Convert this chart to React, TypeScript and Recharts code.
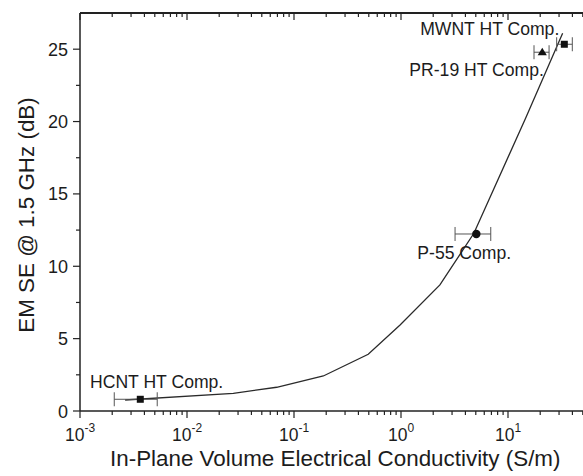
import React from 'react';
import { ComposedChart, Line, Scatter, XAxis, YAxis, ErrorBar } from 'recharts';

// Fitted curve (conductivity S/m, EM SE dB)
const curveConductivity = [0.00264, 0.0271, 0.0689, 0.188, 0.494, 0.98, 2.31, 4.8, 14.6, 32.4];
const curveSE = [0.76, 1.22, 1.64, 2.42, 3.92, 5.94, 8.71, 12.28, 20.23, 26.1];

// Square markers: HCNT HT Comp., MWNT HT Comp.
const squareX = [0.00366, 33.6];
const squareY = [0.81, 25.34];
const squareLo = [0.00209, 28.5];
const squareHi = [0.00527, 39.9];

// Circle marker: P-55 Comp.
const circleX = [5.06];
const circleY = [12.23];
const circleLo = [3.2];
const circleHi = [6.9];

// Triangle marker: PR-19 HT Comp.
const triangleX = [20.9];
const triangleY = [24.79];
const triangleLo = [17.5];
const triangleHi = [24.2];

// Annotations
const labelText = ['MWNT HT Comp.', 'PR-19 HT Comp.', 'P-55 Comp.', 'HCNT HT Comp.'];
const labelX = [1.51, 1.196, 1.42, 0.00124];
const labelY = [25.98, 23.15, 10.5, 1.59];

// Axis ticks
const xMajorTicks = [0.001, 0.01, 0.1, 1, 10, 100];
const xLabeledTicks = [0.001, 0.01, 0.1, 1, 10];
const xMinorTicks = [
  0.002, 0.003, 0.004, 0.005, 0.006, 0.007, 0.008, 0.009,
  0.02, 0.03, 0.04, 0.05, 0.06, 0.07, 0.08, 0.09,
  0.2, 0.3, 0.4, 0.5, 0.6, 0.7, 0.8, 0.9,
  2, 3, 4, 5, 6, 7, 8, 9,
  20, 30, 40, 50, 60, 70, 80, 90,
];
const yMajorTicks = [0, 5, 10, 15, 20, 25];
const yMinorTicks = [2.5, 7.5, 12.5, 17.5, 22.5];

const X_DOMAIN: [number, number] = [0.001, 100];
const Y_DOMAIN: [number, number] = [0, 27.5];

const FONT = '"Liberation Sans", Arial, sans-serif';
const TEXT = '#1c1c1c';
const AXIS = '#222';

const xAllTicks = [...xMajorTicks, ...xMinorTicks].sort((a, b) => a - b);
const yAllTicks = [...yMajorTicks, ...yMinorTicks].sort((a, b) => a - b);

const build = (xs: number[], ys: number[], lo: number[], hi: number[]) =>
  xs.map((x, i) => ({ x, y: ys[i], err: [x - lo[i], hi[i] - x] }));

const curveData = curveConductivity.map((x, i) => ({ x, y: curveSE[i] }));
const squareData = build(squareX, squareY, squareLo, squareHi);
const circleData = build(circleX, circleY, circleLo, circleHi);
const triangleData = build(triangleX, triangleY, triangleLo, triangleHi);
const labelData = labelText.map((text, i) => ({ x: labelX[i], y: labelY[i], text }));

const inList = (list: number[], v: number) => list.some((m) => Math.abs(m - v) < m * 1e-6);
const isYMajor = (v: number) => yMajorTicks.indexOf(v) >= 0;

const XBottomTick = (props: any) => {
  const { x, y, payload } = props;
  const v = payload.value;
  const major = inList(xMajorTicks, v);
  const labeled = inList(xLabeledTicks, v);
  const exp = Math.round(Math.log10(v));
  return (
    <g>
      <line x1={x} y1={y} x2={x} y2={y + (major ? 7 : 4)} stroke={AXIS} strokeWidth={1.2} />
      {labeled && (
        <text x={x} y={y + 30} textAnchor="middle" fontFamily={FONT} fontSize={17.5} fill={TEXT}>
          <tspan>10</tspan>
          <tspan dy={-9} fontSize={12}>{exp}</tspan>
        </text>
      )}
    </g>
  );
};

const XTopTick = (props: any) => {
  const { x, y, payload } = props;
  const major = inList(xMajorTicks, payload.value);
  return <line x1={x} y1={y} x2={x} y2={y + (major ? 7 : 4)} stroke={AXIS} strokeWidth={1.2} />;
};

const YLeftTick = (props: any) => {
  const { x, y, payload } = props;
  const v = payload.value;
  const major = isYMajor(v);
  return (
    <g>
      <line x1={x - (major ? 7 : 4)} y1={y} x2={x} y2={y} stroke={AXIS} strokeWidth={1.2} />
      {major && (
        <text x={x - 12} y={y + 6.5} textAnchor="end" fontFamily={FONT} fontSize={18} fill={TEXT}>
          {v}
        </text>
      )}
    </g>
  );
};

const XTitle = (props: any) => {
  const vb = props.viewBox || {};
  return (
    <text x={(vb.x || 0) + 30} y={(vb.y || 0) + 54.5} textAnchor="start" fontFamily={FONT} fontSize={22.4} fill={TEXT}>
      In-Plane Volume Electrical Conductivity (S/m)
    </text>
  );
};

const YTitle = (props: any) => {
  const vb = props.viewBox || {};
  const right = (vb.x || 0) + (vb.width || 0);
  const cx = right - 54;
  const cy = (vb.y || 0) + (vb.height || 0) / 2 + 3;
  return (
    <text
      x={cx}
      y={cy}
      transform={`rotate(-90, ${cx}, ${cy})`}
      textAnchor="middle"
      dominantBaseline="central"
      fontFamily={FONT}
      fontSize={22.4}
      fill={TEXT}
    >
      EM SE @ 1.5 GHz (dB)
    </text>
  );
};

const SquareShape = (p: any) => (
  <rect x={p.cx - 3.5} y={p.cy - 3.5} width={7} height={7} fill="#111" />
);
const CircleShape = (p: any) => <circle cx={p.cx} cy={p.cy} r={4.2} fill="#111" />;
const TriangleShape = (p: any) => (
  <polygon
    points={`${p.cx},${p.cy - 4.5} ${p.cx + 4.6},${p.cy + 3} ${p.cx - 4.6},${p.cy + 3}`}
    fill="#111"
  />
);
const LabelShape = (p: any) => (
  <text x={p.cx} y={p.cy} textAnchor="start" fontFamily={FONT} fontSize={17.6} fill={TEXT}>
    {p.payload.text}
  </text>
);

export default function App() {
  return (
    <div
      style={{
        position: 'absolute',
        left: 0,
        top: 0,
        width: 583,
        height: 476,
        overflow: 'hidden',
        background: '#fff',
      }}
    >
      <ComposedChart width={640} height={476} margin={{ top: 0, right: 25, left: 0, bottom: 0 }}>
        <XAxis
          xAxisId="x"
          dataKey="x"
          type="number"
          scale="log"
          domain={X_DOMAIN}
          allowDataOverflow
          ticks={xAllTicks}
          interval={0}
          height={65}
          tick={<XBottomTick />}
          tickSize={0}
          tickMargin={0}
          tickLine={false}
          axisLine={{ stroke: AXIS, strokeWidth: 1.5 }}
          label={<XTitle />}
        />
        <XAxis
          xAxisId="top"
          orientation="top"
          dataKey="x"
          type="number"
          scale="log"
          domain={X_DOMAIN}
          allowDataOverflow
          ticks={xAllTicks}
          interval={0}
          height={13}
          tick={<XTopTick />}
          tickSize={0}
          tickMargin={0}
          tickLine={false}
          axisLine={{ stroke: AXIS, strokeWidth: 2 }}
        />
        <YAxis
          yAxisId="y"
          type="number"
          domain={Y_DOMAIN}
          allowDataOverflow
          ticks={yAllTicks}
          interval={0}
          width={80}
          tickSize={0}
          tickMargin={0}
          tickLine={false}
          tick={<YLeftTick />}
          axisLine={{ stroke: AXIS, strokeWidth: 1.5 }}
          label={<YTitle />}
        />
        <Line
          xAxisId="x"
          yAxisId="y"
          data={curveData}
          dataKey="y"
          type="linear"
          stroke="#2a2a2a"
          strokeWidth={1.3}
          dot={false}
          activeDot={false}
          isAnimationActive={false}
        />
        <Scatter xAxisId="x" yAxisId="y" data={squareData} dataKey="y" shape={SquareShape} isAnimationActive={false}>
          <ErrorBar direction="x" dataKey="err" width={7} stroke="#555" strokeWidth={1} isAnimationActive={false} />
        </Scatter>
        <Scatter xAxisId="x" yAxisId="y" data={circleData} dataKey="y" shape={CircleShape} isAnimationActive={false}>
          <ErrorBar direction="x" dataKey="err" width={7} stroke="#555" strokeWidth={1} isAnimationActive={false} />
        </Scatter>
        <Scatter xAxisId="x" yAxisId="y" data={triangleData} dataKey="y" shape={TriangleShape} isAnimationActive={false}>
          <ErrorBar direction="x" dataKey="err" width={7} stroke="#555" strokeWidth={1} isAnimationActive={false} />
        </Scatter>
        <Scatter xAxisId="x" yAxisId="y" data={labelData} dataKey="y" shape={LabelShape} isAnimationActive={false} />
      </ComposedChart>
    </div>
  );
}
